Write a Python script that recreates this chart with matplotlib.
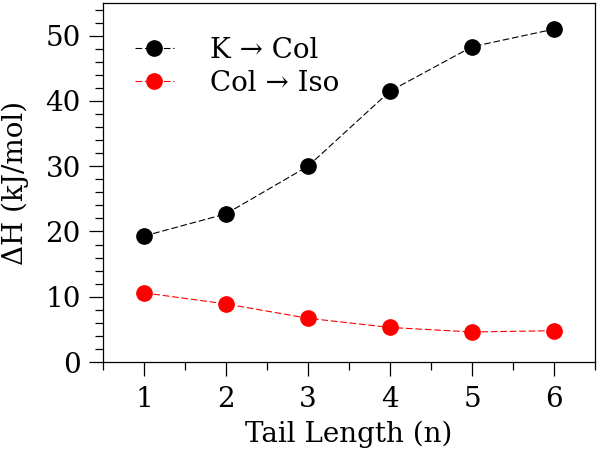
import matplotlib
matplotlib.use("Agg")
import matplotlib.pyplot as plt
from matplotlib.ticker import MultipleLocator

tail_length = [1, 2, 3, 4, 5, 6]
k_to_col = [19.3, 22.7, 30.0, 41.5, 48.3, 51.0]
col_to_iso = [10.6, 8.9, 6.7, 5.3, 4.6, 4.8]

plt.rcParams['font.family'] = 'DejaVu Serif'
plt.rcParams['font.size'] = 20
plt.rcParams['axes.linewidth'] = 0.9

fig = plt.figure(figsize=(6, 4.51), dpi=100)
ax = fig.add_axes([0.1717, 0.1973, 0.8200, 0.796])

# both series: filled circles joined by thin dashed lines
ax.plot(tail_length, k_to_col, 'o--', color='black', ms=11, lw=0.8,
        dashes=(6, 2.5), label='K \u2192 Col')
ax.plot(tail_length, col_to_iso, 'o--', color='red', ms=11, lw=0.8,
        dashes=(6, 2.5), label='Col \u2192 Iso')

ax.set_xlim(0.5, 6.5)
ax.set_ylim(0, 55)
ax.xaxis.set_major_locator(MultipleLocator(1))
ax.xaxis.set_minor_locator(MultipleLocator(0.5))
ax.yaxis.set_major_locator(MultipleLocator(10))
ax.yaxis.set_minor_locator(MultipleLocator(2))
ax.tick_params(which='major', direction='out', length=10, width=0.9)
ax.tick_params(which='minor', direction='out', length=5.5, width=0.9)
ax.tick_params(axis='x', which='major', pad=7)
ax.tick_params(axis='y', which='major', pad=6)

ax.set_xlabel('Tail Length (n)', labelpad=6)
ax.set_ylabel('\u0394H (kJ/mol)', labelpad=12)

ax.legend(loc='upper left', frameon=False, handlelength=1.4,
          handletextpad=1.3, borderaxespad=0.3, labelspacing=0.22,
          bbox_to_anchor=(0.025, 0.96))

fig.savefig('out.png', dpi=100)
